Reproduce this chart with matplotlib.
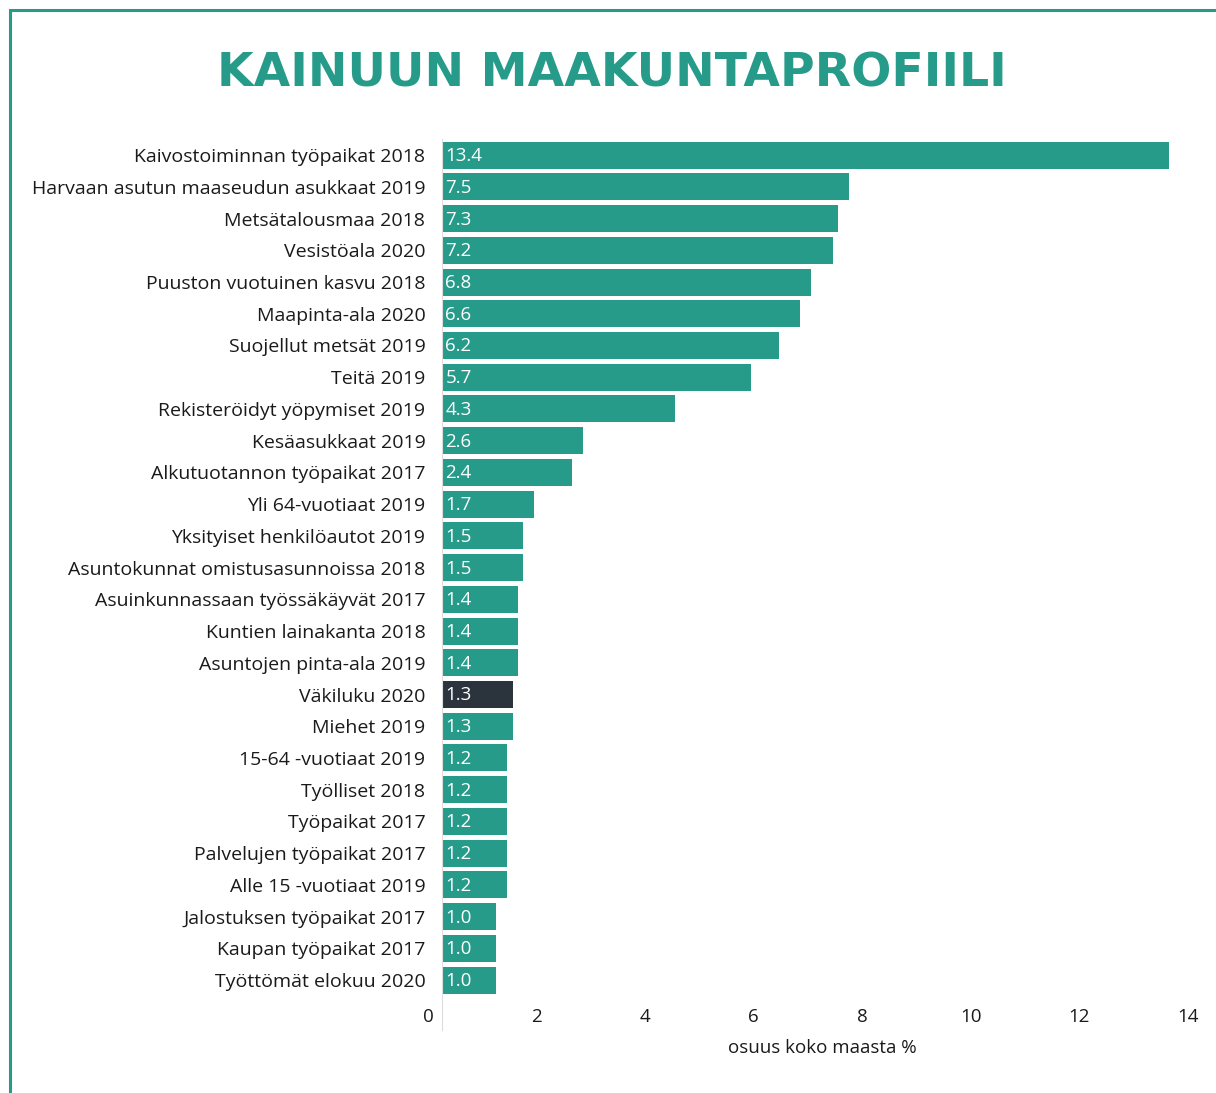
import matplotlib.pyplot as plt
import matplotlib.transforms as mtransforms
from matplotlib.patches import Rectangle

categories = [
    'Kaivostoiminnan työpaikat 2018',
    'Harvaan asutun maaseudun asukkaat 2019',
    'Metsätalousmaa 2018',
    'Vesistöala 2020',
    'Puuston vuotuinen kasvu 2018',
    'Maapinta-ala 2020',
    'Suojellut metsät 2019',
    'Teitä 2019',
    'Rekisteröidyt yöpymiset 2019',
    'Kesäasukkaat 2019',
    'Alkutuotannon työpaikat 2017',
    'Yli 64-vuotiaat 2019',
    'Yksityiset henkilöautot 2019',
    'Asuntokunnat omistusasunnoissa 2018',
    'Asuinkunnassaan työssäkäyvät 2017',
    'Kuntien lainakanta 2018',
    'Asuntojen pinta-ala 2019',
    'Väkiluku 2020',
    'Miehet 2019',
    '15-64 -vuotiaat 2019',
    'Työlliset 2018',
    'Työpaikat 2017',
    'Palvelujen työpaikat 2017',
    'Alle 15 -vuotiaat 2019',
    'Jalostuksen työpaikat 2017',
    'Kaupan työpaikat 2017',
    'Työttömät elokuu 2020',
]
values = [13.4, 7.5, 7.3, 7.2, 6.8, 6.6, 6.2, 5.7, 4.3, 2.6, 2.4, 1.7, 1.5, 1.5,
          1.4, 1.4, 1.4, 1.3, 1.3, 1.2, 1.2, 1.2, 1.2, 1.2, 1.0, 1.0, 1.0]
highlight = 'Väkiluku 2020'
xticks = [0, 2, 4, 6, 8, 10, 12, 14]

teal = '#279b89'
dark = '#2b333d'
font = 'Open Sans'

plt.rcParams['font.family'] = [font, 'DejaVu Sans']

fig = plt.figure(figsize=(12.16, 10.93), dpi=100)
ax = fig.add_axes([0.3635, 0.0888, 0.625, 0.7838])

colors = [dark if c == highlight else teal for c in categories]
ypos = list(range(len(categories)))
bars = ax.barh(ypos, values, height=0.85, color=colors)
for b, v in zip(bars, values):
    ax.text(0.06, b.get_y() + b.get_height() / 2 + 0.03, f'{v:.1f}', color='white',
            va='center', ha='left', fontsize=13.5)

ax.set_ylim(len(categories) - 0.5, -0.5)
ax.set_xlim(0, 14)
ax.set_yticks(ypos)
ax.set_yticklabels(categories, fontsize=14, color='#1a1a1a')
ax.set_xticks(xticks)
ax.set_xticklabels([str(t) for t in xticks], fontsize=13.5, color='#1a1a1a')
ax.tick_params(axis='y', length=0, pad=12)
ax.tick_params(axis='x', length=0, pad=9)
# tick labels sit a little left of the bar origin in the original
shift = mtransforms.ScaledTranslation(-14 / 100, 0, fig.dpi_scale_trans)
for lab in ax.get_xticklabels():
    lab.set_transform(lab.get_transform() + shift)
for s in ax.spines.values():
    s.set_visible(False)
ax.axvline(0, ymin=-0.04, ymax=1, color='#dddddd', lw=0.8, clip_on=False)
ax.set_xlabel('osuus koko maasta %', fontsize=13.5, color='#1a1a1a', labelpad=9)

fig.text(0.503, 1 - 74 / 1093, 'KAINUUN MAAKUNTAPROFIILI', color=teal,
         fontsize=34, fontweight='bold', family='DejaVu Sans',
         ha='center', va='center')

fig.patches.append(Rectangle((10 / 1216, -0.2), 1.2, 1.2 - 10 / 1093,
                             transform=fig.transFigure, fill=False,
                             edgecolor=teal, lw=2.2, figure=fig))

fig.savefig('out.png', dpi=100, facecolor='white')
